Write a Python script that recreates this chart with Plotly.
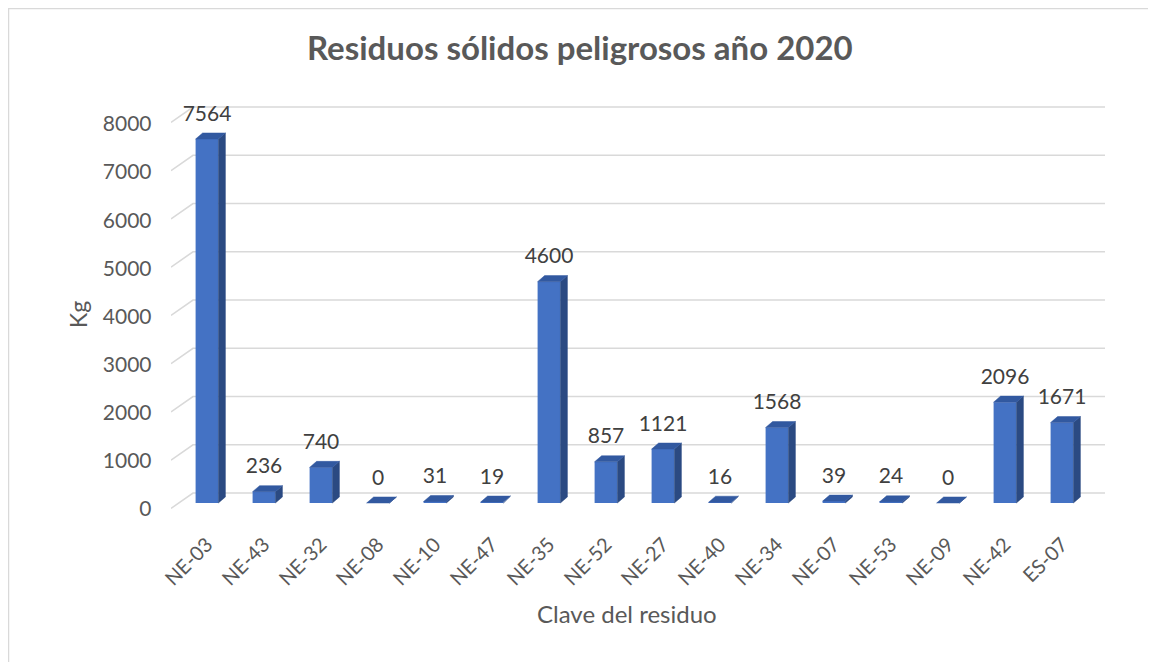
import plotly.graph_objects as go

categories = ["NE-03", "NE-43", "NE-32", "NE-08", "NE-10", "NE-47", "NE-35", "NE-52",
              "NE-27", "NE-40", "NE-34", "NE-07", "NE-53", "NE-09", "NE-42", "ES-07"]
values = [7564, 236, 740, 0, 31, 19, 4600, 857, 1121, 16, 1568, 39, 24, 0, 2096, 1671]
tick_values = [0, 1000, 2000, 3000, 4000, 5000, 6000, 7000, 8000]

title_text = "Residuos sólidos peligrosos año 2020"
x_title = "Clave del residuo"
y_title = "Kg"

OFF = 8                      # page body margin of the html page
W, H = 1156 - OFF, 662 - OFF
FONT = "Lato"
TXT = "#595959"
FRONT = "#4472C4"
SIDE = "#2B4A82"
TOP = "#3259A0"
GRID = "#D9D9D9"

def px(x):
    return (x - OFF) / W

def py(y):
    return 1 - (y - OFF) / H

HALF = 0.2      # half bar width (category units)
DX = 0.123      # depth offset (category units)
DY = 125        # depth offset (kg units)
LABEL_GAP = 150  # extra gap above bar top for the value labels (kg units)

positions = list(range(len(categories)))

fig = go.Figure()

# back-wall gridlines (subplot xy, pixel-like x axis)
BACK_PX = 48.25
slant = 320
gx, gy = [], []
for t in tick_values:
    gx += [171, 193, 1105, None]
    gy += [t - slant, t, t, None]
fig.add_trace(go.Scatter(x=gx, y=gy, mode="lines", line=dict(color=GRID, width=1.6),
                         xaxis="x", yaxis="y", hoverinfo="skip", showlegend=False))

# side and top faces
sx, sy, tx, ty = [], [], [], []
for i, v in zip(positions, values):
    sx += [i + HALF, i + HALF + DX, i + HALF + DX, i + HALF, i + HALF, None]
    sy += [0, DY, v + DY, v, 0, None]
    tx += [i - HALF, i + HALF, i + HALF + DX, i - HALF + DX, i - HALF, None]
    ty += [v, v, v + DY, v + DY, v, None]

fig.add_trace(go.Bar(x=positions, y=values, width=2 * HALF, marker=dict(color=FRONT, line=dict(width=0)),
                     xaxis="x2", yaxis="y2", hoverinfo="skip", showlegend=False))
fig.add_trace(go.Scatter(x=sx, y=sy, mode="lines", fill="toself", fillcolor=SIDE,
                         line=dict(color=SIDE, width=0.5), xaxis="x2", yaxis="y2",
                         hoverinfo="skip", showlegend=False))
fig.add_trace(go.Scatter(x=tx, y=ty, mode="lines", fill="toself", fillcolor=TOP,
                         line=dict(color=TOP, width=0.5), xaxis="x2", yaxis="y2",
                         hoverinfo="skip", showlegend=False))

# data labels
fig.add_trace(go.Scatter(x=positions, y=[v + DY + LABEL_GAP for v in values], mode="text",
                         text=[str(v) for v in values], textposition="top center",
                         textfont=dict(family=FONT, size=21, color="#404040"),
                         xaxis="x2", yaxis="y2", hoverinfo="skip", showlegend=False,
                         cliponaxis=False))

y_top_px, y_bot_px = 98, 512
fig.update_layout(
    width=W, height=H, autosize=False,
    margin=dict(l=0, r=0, t=0, b=0, autoexpand=False),
    paper_bgcolor="white", plot_bgcolor="rgba(0,0,0,0)",
    showlegend=False,
    xaxis=dict(domain=[px(171), px(1105)], range=[171, 1105], visible=False,
               fixedrange=True, automargin=False),
    yaxis=dict(domain=[py(y_bot_px), py(y_top_px)],
               range=[(493 - y_bot_px) / BACK_PX * 1000, (493 - y_top_px) / BACK_PX * 1000],
               visible=False, fixedrange=True, automargin=False),
    xaxis2=dict(domain=[px(178.5), px(1090.5)], range=[-0.5, 15.5], anchor="y2",
                tickvals=positions, ticktext=categories, tickangle=-45,
                showgrid=False, zeroline=False, showline=False, ticks="",
                tickfont=dict(family=FONT, size=20, color=TXT), fixedrange=True,
                automargin=False, ticklabelstandoff=16),
    yaxis2=dict(domain=[py(y_bot_px), py(y_top_px)],
                range=[-(y_bot_px - 503) / 48.125 * 1000, (503 - y_top_px) / 48.125 * 1000],
                anchor="x2", tickvals=tick_values, showgrid=False, zeroline=False,
                showline=False, ticks="", tickfont=dict(family=FONT, size=21, color=TXT),
                ticklabelshift=6, ticklabelstandoff=26, fixedrange=True, automargin=False),
    annotations=[
        dict(text="<b>" + title_text + "</b>", x=px(580), y=py(47), xref="paper", yref="paper",
             showarrow=False, font=dict(family=FONT, size=33, color=TXT), xanchor="center", yanchor="middle"),
        dict(text=y_title, x=px(78), y=py(315), xref="paper", yref="paper", textangle=-90,
             showarrow=False, font=dict(family=FONT, size=23, color=TXT), xanchor="center", yanchor="middle"),
        dict(text=x_title, x=px(627), y=py(613), xref="paper", yref="paper",
             showarrow=False, font=dict(family=FONT, size=24, color=TXT), xanchor="center", yanchor="middle"),
    ],
    shapes=[dict(type="rect", xref="paper", yref="paper", x0=px(8.5), y0=-0.05, x1=1.05, y1=py(8.5),
                 line=dict(color=GRID, width=1.5), fillcolor="rgba(0,0,0,0)", layer="below")],
)

fig.write_html("out.html")
